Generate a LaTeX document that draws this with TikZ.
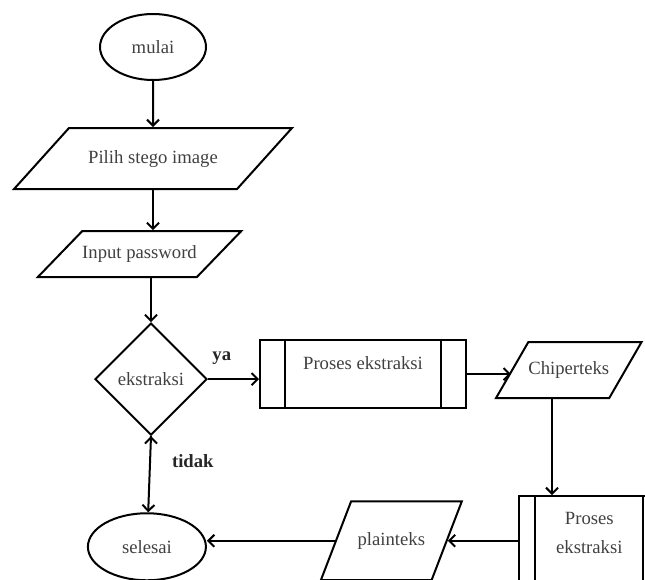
\documentclass[tikz,border=0pt]{standalone}
\usepackage{fontspec}
\setmainfont{Liberation Serif}
\usetikzlibrary{shapes.geometric,positioning,arrows.meta}

\tikzset{
  every node/.style={font=\fontsize{14}{16}\selectfont, text=black!75},
  terminal/.style={ellipse, draw, line width=1.5pt, inner sep=0pt},
  data/.style={trapezium, trapezium stretches body, draw, line width=1.5pt, inner xsep=0pt, text height=10pt, text depth=3pt},
  decision/.style={diamond, aspect=1, draw, line width=1.5pt, inner sep=0pt},
  process/.style={rectangle, draw, line width=1.5pt, inner sep=0pt},
  lbl/.style={font=\bfseries\fontsize{14}{16}\selectfont, text=black!85, inner sep=0pt}
}

\begin{document}
\begin{tikzpicture}[->,>={Straight Barb[length=4.5pt,width=9pt]},line width=1.5pt]
		\useasboundingbox (0,0) rectangle (483.75pt,-434.25pt);
		\clip (0,0) rectangle (483.75pt,-434.25pt);

		\node[terminal, minimum width=79.5pt, minimum height=49.5pt] (mulai) at (114.75pt,-35.25pt) {mulai};
		\node[data, trapezium left angle=48, trapezium right angle=132, minimum width=208.5pt, inner ysep=16.4pt] (pilih) [below=34.5pt of mulai] {Pilih stego image};
		\node[data, trapezium left angle=46, trapezium right angle=134, minimum width=150.75pt, inner ysep=10.75pt] (input) [below=30pt of pilih, xshift=-10.1pt] {Input password};
		\node[decision, minimum width=84pt, minimum height=84pt] (dec) [below=33pt of input, xshift=8.6pt] {ekstraksi};
		\node[process, minimum width=154.5pt, minimum height=51pt, text height=10pt, text depth=17pt] (proses1) [right=38.25pt of dec, yshift=3.75pt] {Proses ekstraksi};
		\node[data, trapezium left angle=60, trapezium right angle=120, minimum width=105.75pt, inner ysep=14.5pt] (chip) [right=33pt of proses1, yshift=3pt] {Chiperteks};
		\node[process, minimum width=105pt, minimum height=75pt, align=center, font=\fontsize{14}{22}\selectfont, text depth=20pt] (proses2) [below=72pt of chip, xshift=15.4pt] {Proses\\ekstraksi};
		\node[data, trapezium left angle=69, trapezium right angle=111, minimum width=105.75pt, inner ysep=23.1pt] (plain) [left=52.9pt of proses2.west, anchor=east, yshift=4pt] {plainteks};
		\node[terminal, minimum width=88.5pt, minimum height=50.25pt] (selesai) [left=96pt of plain, yshift=-4.5pt] {selesai};

		% garis tepi proses
		\draw[-] ([xshift=19.5pt]proses1.north west) -- ([xshift=19.5pt]proses1.south west);
		\draw[-] ([xshift=-19.5pt]proses1.north east) -- ([xshift=-19.5pt]proses1.south east);
		\draw[-] ([xshift=12.75pt]proses2.north west) -- ([xshift=12.75pt]proses2.south west);
		\draw[-] ([xshift=-12.75pt]proses2.north east) -- ([xshift=-12.75pt]proses2.south east);

		\draw 	(mulai) edge (pilih)
				(pilih.south) edge (pilih.south |- input.north)
				(input.south -| dec.north) edge (dec.north)
				(dec.east) edge node[lbl, pos=0.27, above=10pt] {ya} (dec.east -| proses1.west)
				(proses1.east) edge (proses1.east -| chip.left side)
				(chip.bottom side) edge (chip.bottom side |- proses2.north)
				(plain.right side -| proses2.west) edge (plain.right side)
				(plain.west) edge (plain.west -| selesai.east)
				(dec.south) edge node[lbl, pos=0.33, right=15.75pt] {tidak} (selesai);
\end{tikzpicture}
\end{document}
